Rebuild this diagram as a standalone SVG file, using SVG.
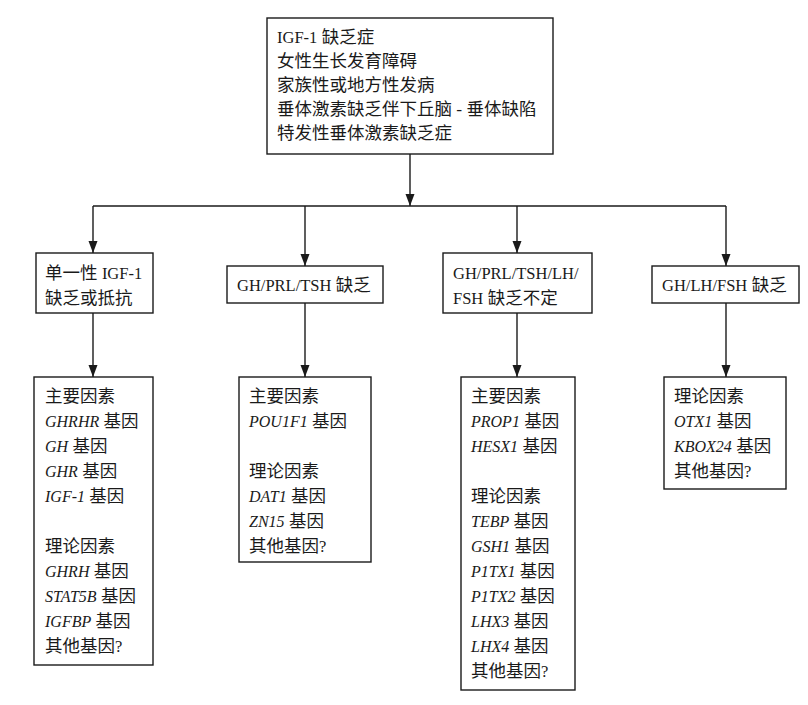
<svg xmlns="http://www.w3.org/2000/svg" width="808" height="705" viewBox="0 0 808 705">
<defs>
<marker id="ah" markerUnits="userSpaceOnUse" markerWidth="12" markerHeight="10" refX="12" refY="4.5" orient="auto">
<path d="M0,0 L12,4.5 L0,9 Z" fill="#1a1a1a"/>
</marker>
</defs>
<style>
rect{fill:#fff;stroke:#1a1a1a;stroke-width:1.4}
text{font-family:"Liberation Serif","Noto Sans CJK SC",serif;font-size:17.5px;fill:#1a1a1a}
.l{font-size:16.5px}
.g{font-size:16px;font-style:italic}
.c line{stroke:#1a1a1a;stroke-width:1.4}
.a{marker-end:url(#ah)}
</style>
<rect width="808" height="705" fill="#fff" style="stroke:none"/>
<g id="top">
<rect x="267" y="18" width="286" height="136"/>
<text x="277" y="43"><tspan class="l">IGF-1</tspan> 缺乏症</text>
<text x="277" y="67">女性生长发育障碍</text>
<text x="277" y="91">家族性或地方性发病</text>
<text x="277" y="115">垂体激素缺乏伴下丘脑 - 垂体缺陷</text>
<text x="277" y="139">特发性垂体激素缺乏症</text>
</g>
<g id="n1">
<rect x="36" y="253" width="117" height="60"/>
<text x="45" y="279">单一性 <tspan class="l">IGF-1</tspan></text>
<text x="45" y="304">缺乏或抵抗</text>
</g>
<g id="n2">
<rect x="227" y="266" width="156" height="37"/>
<text x="237" y="291"><tspan class="l">GH/PRL/TSH</tspan> 缺乏</text>
</g>
<g id="n3">
<rect x="443" y="253" width="149" height="60"/>
<text x="453" y="279"><tspan class="l">GH/PRL/TSH/LH/</tspan></text>
<text x="453" y="304"><tspan class="l">FSH</tspan> 缺乏不定</text>
</g>
<g id="n4">
<rect x="652" y="266" width="147" height="37"/>
<text x="662" y="291"><tspan class="l">GH/LH/FSH</tspan> 缺乏</text>
</g>
<g id="n5">
<rect x="34" y="377" width="119" height="288"/>
<text x="45" y="402">主要因素</text>
<text x="45" y="427"><tspan class="g">GHRHR</tspan> 基因</text>
<text x="45" y="452"><tspan class="g">GH</tspan> 基因</text>
<text x="45" y="477"><tspan class="g">GHR</tspan> 基因</text>
<text x="45" y="502"><tspan class="g">IGF-1</tspan> 基因</text>
<text x="45" y="552">理论因素</text>
<text x="45" y="577"><tspan class="g">GHRH</tspan> 基因</text>
<text x="45" y="602"><tspan class="g">STAT5B</tspan> 基因</text>
<text x="45" y="627"><tspan class="g">IGFBP</tspan> 基因</text>
<text x="45" y="652">其他基因<tspan class="l">?</tspan></text>
</g>
<g id="n6">
<rect x="239" y="377" width="132" height="185"/>
<text x="249" y="402">主要因素</text>
<text x="249" y="427"><tspan class="g">POU1F1</tspan> 基因</text>
<text x="249" y="477">理论因素</text>
<text x="249" y="502"><tspan class="g">DAT1</tspan> 基因</text>
<text x="249" y="527"><tspan class="g">ZN15</tspan> 基因</text>
<text x="249" y="552">其他基因<tspan class="l">?</tspan></text>
</g>
<g id="n7">
<rect x="461" y="377" width="114" height="313"/>
<text x="471" y="402">主要因素</text>
<text x="471" y="427"><tspan class="g">PROP1</tspan> 基因</text>
<text x="471" y="452"><tspan class="g">HESX1</tspan> 基因</text>
<text x="471" y="502">理论因素</text>
<text x="471" y="527"><tspan class="g">TEBP</tspan> 基因</text>
<text x="471" y="552"><tspan class="g">GSH1</tspan> 基因</text>
<text x="471" y="577"><tspan class="g">P1TX1</tspan> 基因</text>
<text x="471" y="602"><tspan class="g">P1TX2</tspan> 基因</text>
<text x="471" y="627"><tspan class="g">LHX3</tspan> 基因</text>
<text x="471" y="652"><tspan class="g">LHX4</tspan> 基因</text>
<text x="471" y="677">其他基因<tspan class="l">?</tspan></text>
</g>
<g id="n8">
<rect x="664" y="377" width="122" height="112"/>
<text x="674" y="402">理论因素</text>
<text x="674" y="427"><tspan class="g">OTX1</tspan> 基因</text>
<text x="674" y="452"><tspan class="g">KBOX24</tspan> 基因</text>
<text x="674" y="477">其他基因<tspan class="l">?</tspan></text>
</g>
<g id="connectors" class="c">
<line class="a" x1="410" y1="154" x2="410" y2="206"/>
<line x1="93" y1="206" x2="726" y2="206"/>
<line class="a" x1="93" y1="206" x2="93" y2="253"/>
<line class="a" x1="305" y1="206" x2="305" y2="266"/>
<line class="a" x1="517" y1="206" x2="517" y2="253"/>
<line class="a" x1="726" y1="206" x2="726" y2="266"/>
<line class="a" x1="93" y1="313" x2="93" y2="377"/>
<line class="a" x1="305" y1="303" x2="305" y2="377"/>
<line class="a" x1="517" y1="313" x2="517" y2="377"/>
<line class="a" x1="726" y1="303" x2="726" y2="377"/>
</g>
</svg>
